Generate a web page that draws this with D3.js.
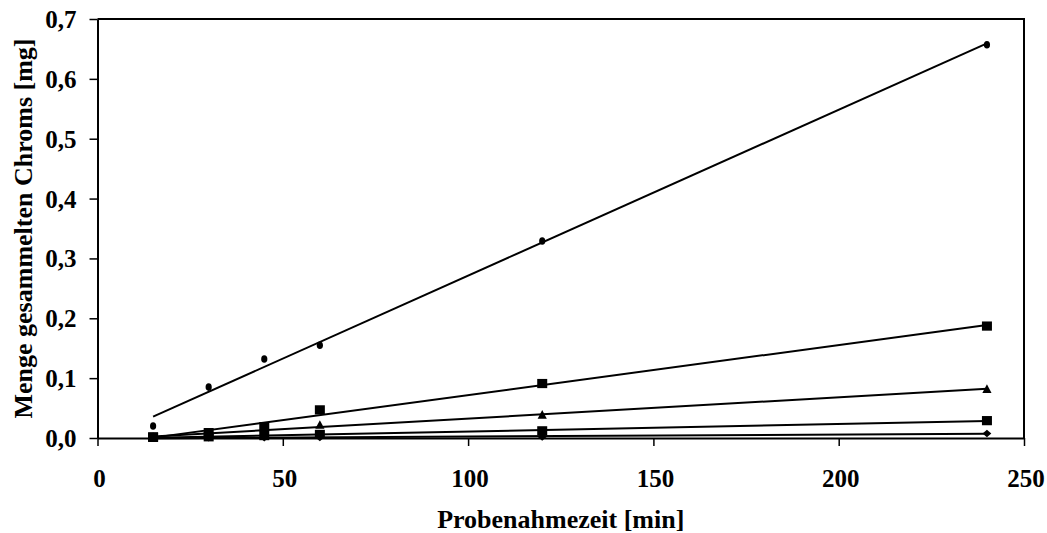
<!DOCTYPE html>
<html>
<head>
<meta charset="utf-8">
<script src="https://cdn.jsdelivr.net/npm/d3@7"></script>
<style>
  html, body { margin: 0; padding: 0; background: #fff; }
  svg { display: block; }
</style>
</head>
<body>
<svg id="chart" width="1047" height="533"></svg>
<script>
// Sampling times (min)
const times = [15, 30, 45, 60, 120, 240];

// Collected chromium per series (mg)
const seriesCircle   = [0.020, 0.085, 0.132, 0.155, 0.329, 0.657];
const seriesSquare   = [0.002, 0.009, 0.019, 0.047, 0.091, 0.187];
const seriesTriangle = [0.002, 0.006, 0.012, 0.022, 0.039, 0.082];
const seriesSmallSq  = [0.001, 0.002, 0.004, 0.006, 0.012, 0.029];
const seriesDiamond  = [0.0002, 0.0004, 0.0006, 0.0009, 0.0018, 0.0076];

// Axis ticks
const xTicks = [0, 50, 100, 150, 200, 250];
const yTicks = [0, 0.1, 0.2, 0.3, 0.4, 0.5, 0.6, 0.7];

const xTitle = "Probenahmezeit [min]";
const yTitle = "Menge gesammelten Chroms [mg]";

const series = [
  { values: seriesCircle,   symbol: "circle" },
  { values: seriesSquare,   symbol: "square" },
  { values: seriesTriangle, symbol: "triangle" },
  { values: seriesSmallSq,  symbol: "square" },
  { values: seriesDiamond,  symbol: "diamond" }
];

const FONT = "'Liberation Serif', 'Times New Roman', Times, serif";

const svg = d3.select("#chart");
const plotLeft = 97.5, plotRight = 1024, plotTop = 19, plotBottom = 438;

const x = d3.scaleLinear().domain([0, 250]).range([plotLeft, plotRight]);
const y = d3.scaleLinear().domain([0, 0.7]).range([plotBottom, plotTop]);

// Least-squares linear trend through a series
function linearFit(xs, ys) {
  const mx = d3.mean(xs), my = d3.mean(ys);
  let sxy = 0, sxx = 0;
  xs.forEach((xv, i) => { sxy += (xv - mx) * (ys[i] - my); sxx += (xv - mx) ** 2; });
  const slope = sxy / sxx;
  return { slope, intercept: my - slope * mx };
}

function styleText(sel, size) {
  sel.style("font-family", FONT).style("font-weight", "bold")
     .style("font-size", size + "px").attr("fill", "#000");
}

// Plot frame (top and right edges)
svg.append("path")
  .attr("d", `M${plotLeft},${plotTop}H${plotRight}V${plotBottom}`)
  .attr("fill", "none").attr("stroke", "#000").attr("stroke-width", 2);

// Y axis
const yAxis = svg.append("g")
  .attr("transform", `translate(${plotLeft},0)`)
  .call(d3.axisLeft(y).tickValues(yTicks).tickSize(8).tickSizeOuter(0)
    .tickFormat(d => d3.format(".1f")(d).replace(".", ",")));
yAxis.select(".domain").attr("stroke-width", 2);
yAxis.selectAll(".tick line").attr("stroke-width", 1.5);
yAxis.selectAll(".tick text")
  .attr("x", -21).attr("dy", "0.34em")
  .call(styleText, 25);

// X axis
const xAxis = svg.append("g")
  .attr("transform", `translate(0,${plotBottom})`)
  .call(d3.axisBottom(x).tickValues(xTicks).tickSize(8).tickSizeOuter(0).tickFormat(d3.format("d")));
xAxis.select(".domain").attr("stroke-width", 2);
xAxis.selectAll(".tick line").attr("stroke-width", 1.5);
xAxis.selectAll(".tick text")
  .attr("y", 49).attr("dy", null).attr("x", 1.5)
  .call(styleText, 25);

// Axis titles
svg.append("text")
  .attr("x", (plotLeft + plotRight) / 2).attr("y", 528)
  .attr("text-anchor", "middle")
  .call(styleText, 26)
  .text(xTitle);

svg.append("text")
  .attr("transform", `translate(32,${(plotTop + plotBottom) / 2}) rotate(-90)`)
  .attr("text-anchor", "middle")
  .call(styleText, 26)
  .text(yTitle);

// Trend lines
const line = d3.line().x(d => x(d[0])).y(d => y(d[1]));
const xMin = d3.min(times), xMax = d3.max(times);
series.forEach(s => {
  const f = linearFit(times, s.values);
  const pts = [xMin, xMax].map(t => [t, f.intercept + f.slope * t]);
  svg.append("path")
    .attr("d", line(pts))
    .attr("fill", "none").attr("stroke", "#000").attr("stroke-width", 2);
});

// Markers
function drawMarker(g, symbol, cx, cy) {
  if (symbol === "circle") {
    g.append("ellipse").attr("cx", cx).attr("cy", cy).attr("rx", 3.1).attr("ry", 3.8);
  } else if (symbol === "square") {
    g.append("rect").attr("x", cx - 5).attr("y", cy - 4.6).attr("width", 10).attr("height", 9.2);
  } else if (symbol === "triangle") {
    g.append("path").attr("d", `M${cx},${cy - 4.6}L${cx + 4.6},${cy + 4}L${cx - 4.6},${cy + 4}Z`);
  } else if (symbol === "diamond") {
    g.append("path").attr("d", `M${cx},${cy - 3.8}L${cx + 4.4},${cy}L${cx},${cy + 3.8}L${cx - 4.4},${cy}Z`);
  }
}
const markers = svg.append("g").attr("fill", "#000");
series.forEach(s => {
  s.values.forEach((v, i) => drawMarker(markers, s.symbol, x(times[i]), y(v)));
});
</script>
</body>
</html>
